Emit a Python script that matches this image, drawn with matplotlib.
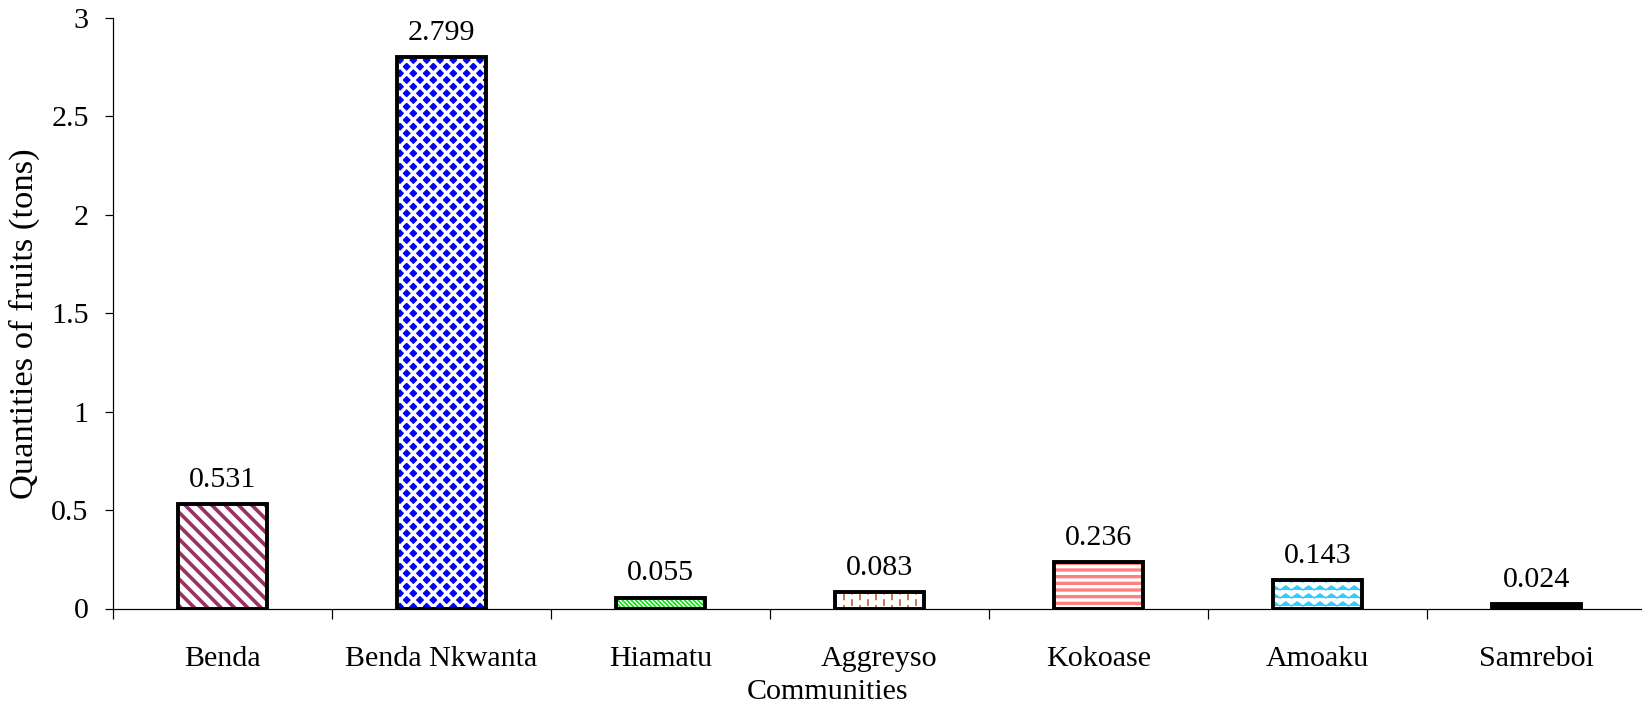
import warnings
import numpy as np
import matplotlib
matplotlib.use("Agg")
import matplotlib.pyplot as plt
from matplotlib import hatch as mhatch
from matplotlib.path import Path
from matplotlib.ticker import FixedLocator, FormatStrFormatter

warnings.filterwarnings("ignore", message="hatch must consist")

communities = ["Benda", "Benda Nkwanta", "Hiamatu", "Aggreyso",
               "Kokoase", "Amoaku", "Samreboi"]
quantities = [0.531, 2.799, 0.055, 0.083, 0.236, 0.143, 0.024]

face_colors = ["white", "#0000ff", "white", "white", "white", "white", "black"]
hatch_colors = ["#993366", "white", "#11dd11", "#c0602a", "#ff8080", "#33ccff", "black"]
hatches = ["\\\\", "xx", "\\" * 6, ":", "--", "~~", ""]
hatch_widths = [3.3, 3.1, 1.5, 1.5, 3.0, 1.4, 1.0]


class WaveHatch(mhatch.HatchPatternBase):
    """'~' -> rows of zigzag lines."""
    def __init__(self, hatch, density):
        self.num_lines = int(round(hatch.count("~") * density * 5 / 6))
        self.teeth = 7
        self.num_vertices = self.num_lines * (2 * self.teeth + 1)

    def set_vertices_and_codes(self, vertices, codes):
        n = 2 * self.teeth + 1
        xs = np.linspace(0, 1, n)
        amp = 0.25 / self.num_lines
        wiggle = amp * np.where(np.arange(n) % 2, 1, -1)
        rows, step = np.linspace(0, 1, self.num_lines, endpoint=False, retstep=True)
        for i, y in enumerate(rows + step / 2):
            vertices[i * n:(i + 1) * n, 0] = xs
            vertices[i * n:(i + 1) * n, 1] = y + wiggle
            codes[i * n] = Path.MOVETO
            codes[i * n + 1:(i + 1) * n] = Path.LINETO


class DashHatch(mhatch.HatchPatternBase):
    """':' -> columns of short vertical dashes, every other column shifted."""
    def __init__(self, hatch, density):
        self.num_cols = int(round(hatch.count(":") * density * 10 / 6))
        self.num_dashes = 7
        self.num_vertices = self.num_cols * self.num_dashes * 2

    def set_vertices_and_codes(self, vertices, codes):
        k = 0
        for c in range(self.num_cols):
            x = (c + 0.5) / self.num_cols
            for d in range(self.num_dashes):
                y0 = (d + 0.05 + 0.5 * (c % 2)) / self.num_dashes
                vertices[k] = (x, y0)
                vertices[k + 1] = (x, y0 + 0.45 / self.num_dashes)
                codes[k] = Path.MOVETO
                codes[k + 1] = Path.LINETO
                k += 2


if WaveHatch not in mhatch._hatch_types:
    mhatch._hatch_types.extend([WaveHatch, DashHatch])


def use_hatch_width(patch, lw):
    # make sure the hatch lines get this width at draw time too
    if hasattr(patch, "set_hatch_linewidth"):
        patch.set_hatch_linewidth(lw)
    draw = patch.draw

    def draw_with_width(renderer):
        with plt.rc_context({"hatch.linewidth": lw}):
            draw(renderer)
    patch.draw = draw_with_width


plt.rcParams["font.family"] = ["Liberation Serif", "DejaVu Serif"]
plt.rcParams["font.size"] = 27

DPI = 80
fig = plt.figure(figsize=(1642 / DPI, 709 / DPI), dpi=DPI)
ax = fig.add_axes([113 / 1642, 100.5 / 709, 1533 / 1642, 590.7 / 709])

x = np.arange(len(communities))
for xi, v, fc, hc, h, lw in zip(x, quantities, face_colors, hatch_colors,
                                hatches, hatch_widths):
    with plt.rc_context({"hatch.linewidth": lw}):
        bar = ax.bar(xi, v, width=0.41, color=fc, edgecolor=hc,
                     linewidth=0, hatch=h or None, zorder=2)[0]
    use_hatch_width(bar, lw)
ax.bar(x, quantities, width=0.41, fill=False, edgecolor="black",
       linewidth=3.5, zorder=3)

for xi, v in zip(x, quantities):
    ax.annotate(f"{v:.3f}", (xi, v), xytext=(0, 15.5), textcoords="offset points",
                ha="center", va="baseline")

ax.set_xlim(-0.5, len(communities) - 0.5)
ax.set_ylim(0, 3)
ax.yaxis.set_major_locator(FixedLocator([0, 0.5, 1, 1.5, 2, 2.5, 3]))
ax.yaxis.set_major_formatter(FormatStrFormatter("%g"))

# boundary ticks between communities, names sit on minor ticks
ax.xaxis.set_major_locator(FixedLocator(np.arange(-0.5, len(communities), 1.0)))
ax.xaxis.set_major_formatter(plt.NullFormatter())
ax.xaxis.set_minor_locator(FixedLocator(x))
ax.set_xticklabels(communities, minor=True)
ax.tick_params(axis="x", which="major", length=9, width=1.1, direction="out")
ax.tick_params(axis="x", which="minor", length=0, pad=34)
ax.tick_params(axis="y", length=7, width=1.1, direction="out", pad=15)

for side in ("top", "right"):
    ax.spines[side].set_visible(False)
for side in ("left", "bottom"):
    ax.spines[side].set_linewidth(1.1)

fig.text(828 / 1642, 1 - 692 / 709, "Communities", ha="center", va="center")
fig.text(24 / 1642, 1 - 324 / 709, "Quantities of fruits (tons)",
         rotation=90, ha="center", va="center", fontsize=31)

fig.savefig("out.png", dpi=DPI)
